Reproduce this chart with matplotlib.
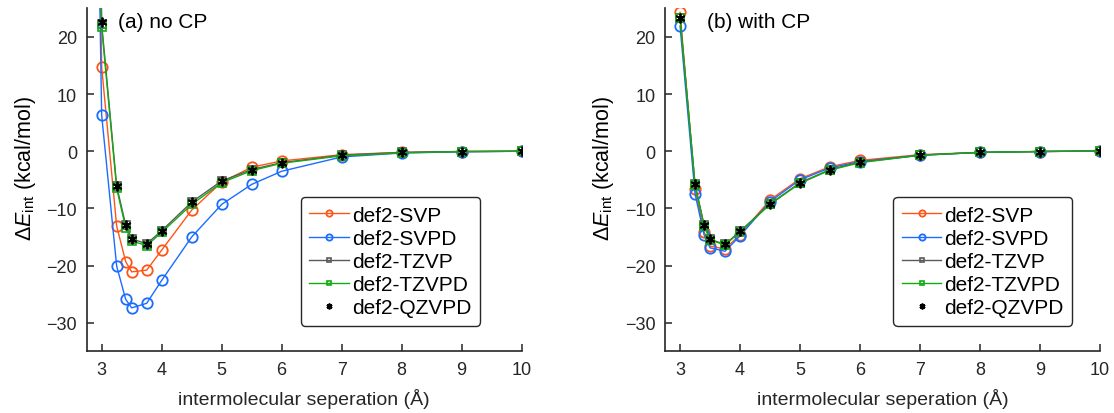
import numpy as np
import matplotlib
matplotlib.use('Agg')
import matplotlib.pyplot as plt

plt.rcParams['font.family'] = ['Liberation Sans', 'DejaVu Sans']
plt.rcParams['mathtext.fontset'] = 'custom'
plt.rcParams['mathtext.rm'] = 'Liberation Sans'
plt.rcParams['mathtext.it'] = 'Liberation Sans:italic'

# separations (Angstrom); the 2.9 point of panel (a) is off the top of the axes
x_a = [2.9, 3.0, 3.25, 3.4, 3.5, 3.75, 4.0, 4.5, 5.0, 5.5, 6.0, 7.0, 8.0, 9.0, 10.0]
x_b = [3.0, 3.25, 3.4, 3.5, 3.75, 4.0, 4.5, 5.0, 5.5, 6.0, 7.0, 8.0, 9.0, 10.0]

# (a) no CP
svp_a   = [80, 14.7, -13.1, -19.3, -21.1, -20.8, -17.3, -10.3, -5.4, -2.8, -1.7, -0.6, -0.2, -0.05, 0.0]
svpd_a  = [70, 6.3, -20.1, -25.9, -27.4, -26.6, -22.6, -15.0, -9.3, -5.8, -3.5, -1.0, -0.3, -0.1, 0.0]
tzvp_a  = [90, 22.3, -6.1, -12.9, -15.3, -16.2, -13.9, -8.9, -5.2, -3.2, -2.0, -0.7, -0.2, -0.05, 0.0]
tzvpd_a = [90, 21.7, -6.5, -13.4, -15.7, -16.5, -14.2, -9.3, -5.5, -3.4, -2.1, -0.8, -0.3, -0.05, 0.0]
qzvpd_a = [90, 22.6, -6.1, -12.9, -15.3, -16.2, -13.9, -8.9, -5.2, -3.2, -2.0, -0.7, -0.2, -0.05, 0.0]

# (b) with CP
svp_b   = [24.3, -6.6, -14.1, -16.6, -17.1, -14.6, -8.5, -4.8, -2.7, -1.6, -0.6, -0.2, -0.05, 0.05]
svpd_b  = [21.9, -7.5, -14.6, -16.9, -17.5, -14.8, -8.8, -5.0, -2.9, -1.8, -0.7, -0.2, -0.05, 0.05]
tzvp_b  = [23.3, -5.8, -12.9, -15.4, -16.3, -14.0, -9.2, -5.5, -3.2, -1.9, -0.7, -0.2, -0.05, 0.05]
tzvpd_b = [23.3, -5.9, -13.0, -15.5, -16.4, -14.1, -9.3, -5.6, -3.3, -2.0, -0.7, -0.2, -0.05, 0.05]
qzvpd_b = [23.3, -5.8, -12.9, -15.4, -16.3, -14.0, -9.2, -5.5, -3.2, -1.9, -0.7, -0.2, -0.05, 0.05]

labels = ['def2-SVP', 'def2-SVPD', 'def2-TZVP', 'def2-TZVPD', 'def2-QZVPD']
c_svp, c_svpd, c_tz, c_tzd = '#ff5418', '#1a6dff', '#5a5a5a', '#14aa14'
ink = '#262626'

fig = plt.figure(figsize=(11.14, 4.14), dpi=100)
ax1 = fig.add_axes([0.0778, 0.149, 0.3905, 0.8285])
ax2 = fig.add_axes([0.597, 0.149, 0.3905, 0.8285])

panels = [
    (ax1, x_a, [svp_a, svpd_a, tzvp_a, tzvpd_a, qzvpd_a], '(a) no CP', 0.072, 0.4927),
    (ax2, x_b, [svp_b, svpd_b, tzvp_b, tzvpd_b, qzvpd_b], '(b) with CP', 0.096, 0.525),
]

for ax, xs, ys, title, tx, lx in panels:
    ax.plot(xs, ys[0], '-o', color=c_svp, lw=1.0, ms=7.5, mfc='none', mew=1.3, label=labels[0])
    ax.plot(xs, ys[1], '-o', color=c_svpd, lw=1.0, ms=7.5, mfc='none', mew=1.3, label=labels[1])
    ax.plot(xs, ys[2], '-s', color=c_tz, lw=1.0, ms=6, mfc='none', mew=1.2, label=labels[2])
    ax.plot(xs, ys[3], '-s', color=c_tzd, lw=1.0, ms=6, mfc='none', mew=1.2, label=labels[3])
    ax.plot(xs, ys[4], ls='none', marker=(6, 2, 0), color='black', ms=7, mew=1.3, label=labels[4])

    ax.set_xlim(2.75, 10)
    ax.set_ylim(-35, 25)
    ax.set_xticks(range(3, 11))
    ax.set_yticks([-30, -20, -10, 0, 10, 20])
    for s in ['top', 'right']:
        ax.spines[s].set_visible(False)
    for s in ['left', 'bottom']:
        ax.spines[s].set_linewidth(1.2)
        ax.spines[s].set_color(ink)
    ax.tick_params(direction='in', length=5, width=1.1, colors=ink, labelsize=13, pad=7)
    ax.set_xlabel('intermolecular seperation (Å)', fontsize=14, color=ink, labelpad=7)
    ax.set_ylabel(r'$\Delta E_{\mathrm{int}}$ (kcal/mol)', fontsize=15.5, color='black')
    ax.yaxis.set_label_coords(-0.112, 0.537)
    ax.text(tx, 0.963, title, transform=ax.transAxes, fontsize=15, va='center', ha='left')

    leg = ax.legend(loc='upper left', bbox_to_anchor=(lx, 0.449), borderaxespad=0,
                    fontsize=15, handlelength=1.9, handletextpad=0.15, labelspacing=0.2,
                    markerscale=0.6, frameon=True, fancybox=True, borderpad=0.4)
    fr = leg.get_frame()
    fr.set_edgecolor(ink)
    fr.set_linewidth(1.0)
    fr.set_alpha(1)

fig.savefig('out.png', dpi=100)
